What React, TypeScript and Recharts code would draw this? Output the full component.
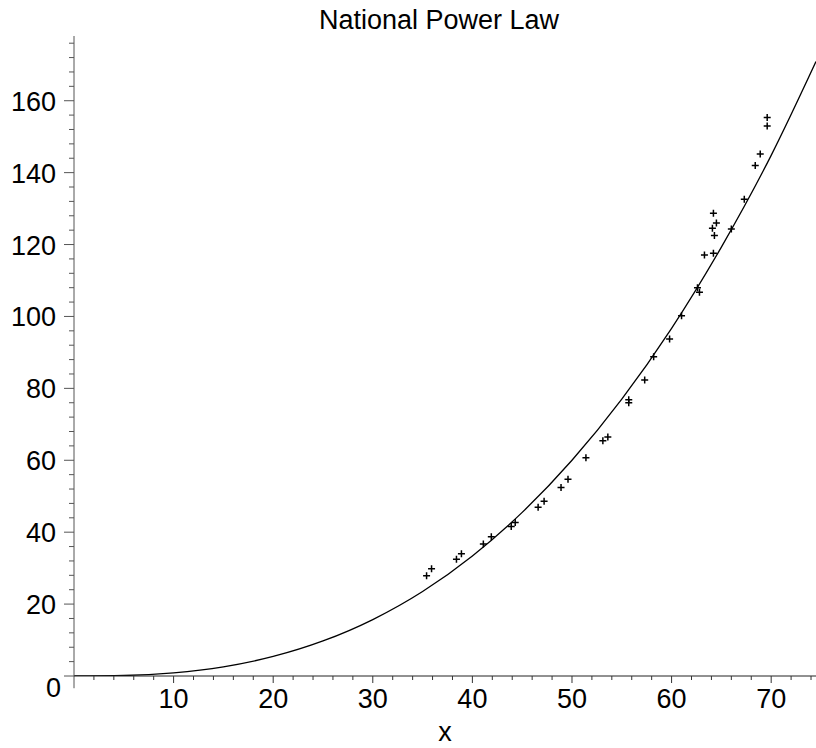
import { ComposedChart, Line, Scatter, XAxis, YAxis, ReferenceLine } from 'recharts'

// fitted power-law curve
const curveX = [0, 5, 10, 15, 20, 25, 30, 35, 40, 45, 50, 55, 60, 65, 70, 74.5]
const curveY = [0, 0.14, 0.88, 2.56, 5.44, 9.75, 15.7, 23.5, 33.4, 45.5, 60.0, 77.0, 96.7, 119.3, 144.8, 170.9]

// observed points (+ markers)
const pointX = [35.4, 35.9, 38.4, 38.9, 41.1, 41.9, 43.9, 44.3, 46.6, 47.2, 48.9, 49.6, 51.4, 53.1, 53.6, 55.7, 55.7, 57.3, 58.2, 59.8, 61.0, 62.6, 62.8, 63.3, 64.2, 64.3, 64.1, 64.5, 64.2, 66.0, 67.3, 68.4, 68.9, 69.6, 69.6]
const pointY = [27.9, 29.8, 32.5, 34.0, 36.7, 38.7, 41.6, 42.7, 46.9, 48.6, 52.4, 54.7, 60.7, 65.4, 66.5, 76.8, 76.0, 82.3, 88.8, 93.7, 100.2, 108.0, 106.7, 117.1, 117.6, 122.5, 124.5, 126.0, 128.7, 124.3, 132.6, 142.0, 145.2, 153.0, 155.3]

const xTicks = [2, 4, 6, 8, 10, 12, 14, 16, 18, 20, 22, 24, 26, 28, 30, 32, 34, 36, 38, 40, 42, 44, 46, 48, 50, 52, 54, 56, 58, 60, 62, 64, 66, 68, 70, 72, 74]
const yTicks = [0, 4, 8, 12, 16, 20, 24, 28, 32, 36, 40, 44, 48, 52, 56, 60, 64, 68, 72, 76, 80, 84, 88, 92, 96, 100, 104, 108, 112, 116, 120, 124, 128, 132, 136, 140, 144, 148, 152, 156, 160, 164, 168, 172, 176]

const curve = curveX.map((x, i) => ({ x, y: curveY[i] }))
const points = pointX.map((x, i) => ({ x, y: pointY[i] }))

const FONT = '"Liberation Sans", Arial, sans-serif'
const FS = 27

const XTick = ({ x, y, payload }: any) => {
  const v = payload.value
  const major = v % 10 === 0
  return (
    <g>
      <line x1={x} x2={x} y1={y} y2={y + (major ? 7 : 4)} stroke="#333" />
      {major && (
        <text x={x} y={y + 32} textAnchor="middle" fontSize={FS} fontFamily={FONT} fill="#000">{v}</text>
      )}
    </g>
  )
}

const YTick = ({ x, y, payload }: any) => {
  const v = payload.value
  const major = v % 20 === 0
  return (
    <g>
      <line x1={x - (major ? 10 : 5)} x2={x} y1={y} y2={y} stroke="#555" />
      {major && (
        <text x={v === 0 ? 61 : 56} y={v === 0 ? y + 21 : y + 10} textAnchor="end" fontSize={FS} fontFamily={FONT} fill="#000">{v}</text>
      )}
    </g>
  )
}

const XLabel = ({ viewBox }: any) => (
  <text x={viewBox.x + viewBox.width / 2} y={741} textAnchor="middle" fontSize={FS} fontFamily={FONT} fill="#000">x</text>
)

const Plus = ({ cx, cy }: any) => (
  <path d={`M${cx - 3.5},${cy}H${cx + 3.5}M${cx},${cy - 3.5}V${cy + 3.5}`} stroke="#000" strokeWidth={1.5} fill="none" />
)

export default function App() {
  return (
    <div style={{ position: 'absolute', left: 0, top: 0, width: 816, height: 748, background: '#fff', fontFamily: FONT }}>
      <div style={{ position: 'absolute', top: 4, left: 0, width: 878, textAlign: 'center', fontSize: FS, lineHeight: '32px', color: '#000' }}>
        National Power Law
      </div>
      <ComposedChart width={816} height={748} margin={{ top: 36, right: 0, bottom: 0, left: 0 }}>
        <XAxis
          dataKey="x" type="number" domain={[0, 74.5]} ticks={xTicks} interval={0}
          tick={<XTick />} tickLine={false} tickSize={0} tickMargin={0}
          axisLine={{ stroke: '#222' }} height={72} allowDataOverflow
          label={<XLabel />}
        />
        <YAxis
          dataKey="y" type="number" domain={[0, 178]} ticks={yTicks} interval={0}
          tick={<YTick />} tickLine={false} tickSize={0} tickMargin={0}
          axisLine={{ stroke: '#555' }} width={74} allowDataOverflow
        />
        <ReferenceLine segment={[{ x: 0, y: 0 }, { x: 0, y: -3.4 }]} stroke="#555" ifOverflow="visible" />
        <Line data={curve} dataKey="y" type="monotone" stroke="#000" strokeWidth={1.3} dot={false} isAnimationActive={false} />
        <Scatter data={points} dataKey="y" shape={<Plus />} isAnimationActive={false} />
      </ComposedChart>
    </div>
  )
}
